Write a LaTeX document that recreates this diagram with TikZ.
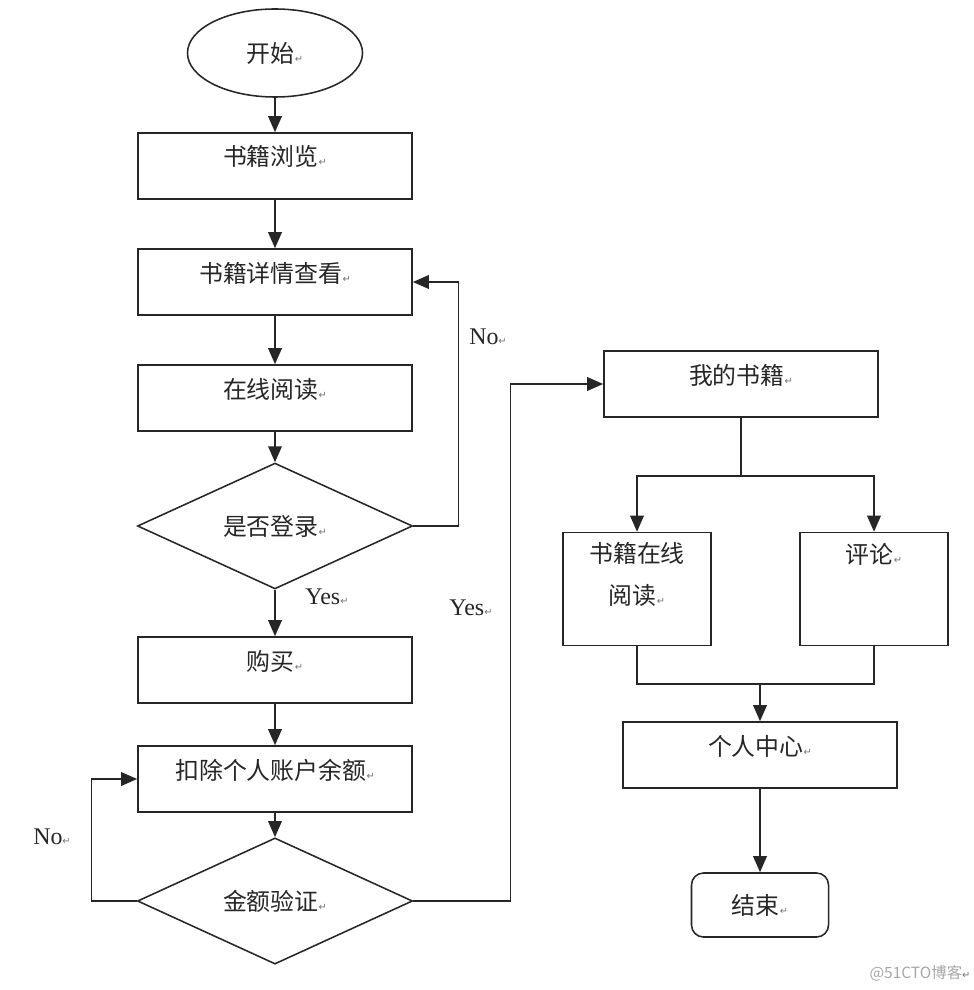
\documentclass[tikz,border=0pt]{standalone}
\usepackage{fontspec}
\usepackage{xcolor}
\setmainfont{Liberation Serif}
\newfontfamily\cjk{Noto Sans CJK SC}
\newfontfamily\symb{DejaVu Sans}
\usetikzlibrary{shapes,arrows,positioning,calc,arrows.meta}
\newcommand{\pmark}{{\symb\fontsize{7}{7}\selectfont\color{black!55}↵}}

\begin{document}
\begin{tikzpicture}[x=0.025cm,y=-0.025cm,line width=1.1pt,draw=black!85,
    every node/.style={font=\cjk\fontsize{17}{30}\selectfont,text=black!85},
    box/.style={draw,rectangle,minimum width=6.85cm,minimum height=1.65cm,inner sep=0pt,text height=0.45cm,text depth=0.45cm},
    tallbox/.style={draw,rectangle,minimum width=3.7cm,minimum height=2.825cm,inner sep=0pt,align=center,text height=0.45cm,text depth=1.72cm},
    decide/.style={draw,diamond,minimum width=6.875cm,minimum height=2.3cm,inner sep=0pt},
    lbl/.style={font=\rmfamily\fontsize{17}{20}\selectfont},
    arr/.style={-{Triangle[length=0.4cm,width=0.34cm]}}]
    \useasboundingbox (0,0) rectangle (973,990);

    % Left column
    \node[draw,ellipse,minimum width=4.375cm,minimum height=2.2cm,inner sep=0pt] (start) at (275,53) {开始\pmark};
    \node[box] (browse) at (275,166) {书籍浏览\pmark};
    \node[box] (detail) at (275,282) {书籍详情查看\pmark};
    \node[box] (read) at (275,398) {在线阅读\pmark};
    \node[decide] (login) at (275,526) {是否登录\pmark};
    \node[box] (buy) at (275,670) {购买\pmark};
    \node[box] (deduct) at (275,779) {扣除个人账户余额\pmark};
    \node[decide] (verify) at (275,901) {金额验证\pmark};

    % Right column
    \node[box] (mybooks) at (741,384) {我的书籍\pmark};
    \node[tallbox,text height=0.9cm,text depth=0.12cm] (onread) at (637,589) {书籍在线\\阅读\pmark};
    \node[tallbox] (comment) at (874,589) {评论\pmark};
    \node[box] (center) at (760,755) {个人中心\pmark};
    \node[draw,rounded corners=0.3cm,minimum width=3.425cm,minimum height=1.6cm,inner sep=0pt] (finish) at (760,905) {结束\pmark};
    \coordinate (split) at (741,476);
    \coordinate (merge) at (760,684);

    % Flow
    \draw[arr] (start) -- (browse);
    \draw[arr] (browse) -- (detail);
    \draw[arr] (detail) -- (read);
    \draw[arr] (read) -- (login);
    \draw[arr] (login) -- (buy);
    \draw[arr] (buy) -- (deduct);
    \draw[arr] (deduct) -- (verify);
    \draw[arr] (login.east) -- ++(45,0) |- (detail.east);
    \draw[arr] (verify.west) -- ++(-45,0) |- (deduct.west);
    \draw[arr] (verify.east) -- ++(97,0) |- (mybooks.west);
    \draw (mybooks) -- (split);
    \draw[arr] (split) -| (onread.north);
    \draw[arr] (split) -| (comment.north);
    \draw (onread.south) |- (merge);
    \draw (comment.south) |- (merge);
    \draw[arr] (merge) -- (center);
    \draw[arr] (center) -- (finish);

    % Labels
    \node[lbl] (no1) at (488,337) {No\pmark};
    \node[lbl] (yes1) at (327,597) {Yes\pmark};
    \node[lbl] (yes2) at (471,608) {Yes\pmark};
    \node[lbl] (no2) at (52,837) {No\pmark};
    \node[font=\cjk\fontsize{11}{13}\selectfont,text=black!35] (mark) at (920,973) {@51CTO博客\pmark};
\end{tikzpicture}
\end{document}
